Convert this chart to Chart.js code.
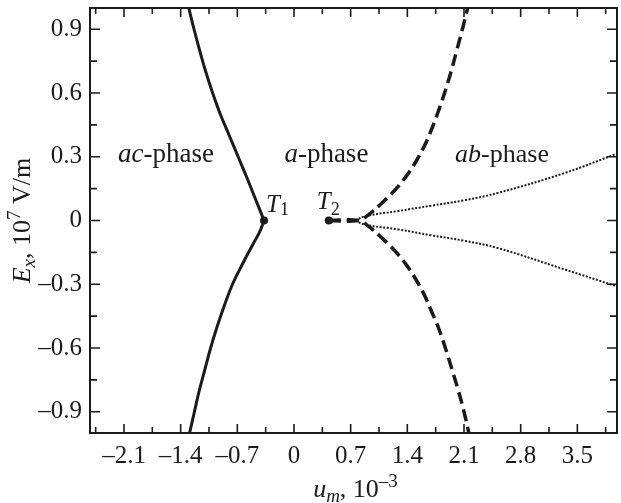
<!DOCTYPE html>
<html><head><meta charset="utf-8">
<script src="https://cdn.jsdelivr.net/npm/chart.js@4/dist/chart.umd.min.js"></script>
<style>html,body{margin:0;padding:0;background:#fff}#wrap{width:621px;height:503px}
.fl{font-family:"Liberation Serif";position:absolute;left:-999px}</style>
</head><body><div id="wrap"><canvas id="c" width="621" height="503"></canvas></div>
<span class="fl">0.9 <i>ac</i></span>
<script>
// ---- data ----
const xTicks = [-2.1, -1.4, -0.7, 0, 0.7, 1.4, 2.1, 2.8, 3.5];
const xTickLabels = ['\u20132.1', '\u20131.4', '\u20130.7', '0', '0.7', '1.4', '2.1', '2.8', '3.5'];
const xMinorTicks = [-2.45, -1.75, -1.05, -0.35, 0.35, 1.05, 1.75, 2.45, 3.15, 3.85];
const yTicks = [-0.9, -0.6, -0.3, 0, 0.3, 0.6, 0.9];
const yTickLabels = ['\u20130.9', '\u20130.6', '\u20130.3', '0', '0.3', '0.6', '0.9'];
const yMinorTicks = [-0.75, -0.45, -0.15, 0.15, 0.45, 0.75];

// ac / a boundary (solid)
const uAcUpper = [-0.37, -0.475, -0.58, -0.69, -0.80, -0.91, -1.005, -1.09, -1.165, -1.235, -1.30];
const eAcUpper = [0, 0.1, 0.2, 0.3, 0.4, 0.5, 0.6, 0.7, 0.8, 0.9, 1.0];
const uAcLower = [-0.37, -0.42, -0.49, -0.63, -0.76, -0.86, -0.95, -1.03, -1.10, -1.17, -1.23, -1.29];
const eAcLower = [0, -0.05, -0.1, -0.2, -0.3, -0.4, -0.5, -0.6, -0.7, -0.8, -0.9, -1.0];
// a / ab boundary (dashed)
const uAbUpper = [0.43, 0.80, 0.93, 1.08, 1.24, 1.39, 1.51, 1.61, 1.69, 1.77, 1.86, 1.94, 2.01, 2.08, 2.145];
const eAbUpper = [0, 0, 0.03, 0.08, 0.14, 0.21, 0.28, 0.35, 0.42, 0.50, 0.60, 0.70, 0.80, 0.90, 1.0];
const uAbLower = [0.43, 0.80, 0.93, 1.08, 1.24, 1.39, 1.51, 1.61, 1.69, 1.78, 1.87, 1.95, 2.03, 2.10, 2.16];
const eAbLower = [0, 0, -0.03, -0.08, -0.14, -0.21, -0.28, -0.35, -0.42, -0.50, -0.60, -0.70, -0.80, -0.90, -1.0];
// dotted curves
const uDotUpper = [0.76, 0.88, 1.29, 1.70, 2.10, 2.52, 3.34, 3.99];
const eDotUpper = [0, 0.02, 0.045, 0.07, 0.095, 0.13, 0.223, 0.315];
const uDotLower = [0.76, 0.88, 1.29, 1.70, 2.10, 2.52, 3.34, 3.99];
const eDotLower = [0, -0.02, -0.042, -0.07, -0.095, -0.13, -0.23, -0.31];
// special points
const pointNames = ['T1', 'T2'];
const pointU = [-0.37, 0.43];
const pointE = [0, 0];
// region labels
const phaseNames = ['ac', 'a', 'ab'];

const INK = '#1b1b1b';
const SERIF = '"Liberation Serif", "Times New Roman", serif';
const zip = (us, es) => us.map((u, i) => ({x: u, y: es[i]}));

function curve(us, es, style) {
  return Object.assign({
    data: zip(us, es), showLine: true, pointRadius: 0, pointHoverRadius: 0,
    borderColor: INK, backgroundColor: INK, tension: 0.4, fill: false
  }, style);
}
const solid = {borderWidth: 3};
const dashed = {borderWidth: 3.5, borderDash: [12, 6]};
const dotted = {borderWidth: 2, borderDash: [2, 1.6]};

function drawRich(ctx, pieces, x, y, size, align) {
  const fontOf = (p) => (p[1] ? 'italic ' : '') + Math.round(size * (p[2] || 1)) + 'px ' + SERIF;
  let total = 0;
  pieces.forEach(p => { ctx.font = fontOf(p); total += ctx.measureText(p[0]).width; });
  let cx = align === 'center' ? x - total / 2 : (align === 'right' ? x - total : x);
  ctx.textAlign = 'left';
  ctx.textBaseline = 'alphabetic';
  pieces.forEach(p => {
    ctx.font = fontOf(p);
    ctx.fillText(p[0], cx, y + (p[3] || 0) * size);
    cx += ctx.measureText(p[0]).width;
  });
}

const zeroPad = s => { s.paddingLeft = 0; s.paddingRight = 0; s.paddingTop = 0; s.paddingBottom = 0; };

const decor = {
  id: 'decor',
  afterDatasetsDraw(chart) {
    const {ctx, chartArea: a, scales: {x, y}} = chart;
    ctx.save();
    ctx.strokeStyle = INK;
    ctx.lineWidth = 1.6;
    const tick = (v, len, horiz) => {
      if (horiz) {
        const p = x.getPixelForValue(v);
        ctx.beginPath();
        ctx.moveTo(p, a.bottom); ctx.lineTo(p, a.bottom - len);
        ctx.moveTo(p, a.top); ctx.lineTo(p, a.top + len);
        ctx.stroke();
      } else {
        const p = y.getPixelForValue(v);
        ctx.beginPath();
        ctx.moveTo(a.left, p); ctx.lineTo(a.left + len, p);
        ctx.moveTo(a.right, p); ctx.lineTo(a.right - len, p);
        ctx.stroke();
      }
    };
    xTicks.forEach(v => tick(v, 9, true));
    xMinorTicks.forEach(v => tick(v, 6, true));
    yTicks.forEach(v => tick(v, 10, false));
    yMinorTicks.forEach(v => tick(v, 7, false));
    ctx.lineWidth = 2;
    ctx.strokeRect(a.left, a.top, a.right - a.left, a.bottom - a.top);

    ctx.fillStyle = INK;
    const labY = y.getPixelForValue(0.273);
    drawRich(ctx, [[phaseNames[0], true], ['-phase', false]], x.getPixelForValue(-1.58), labY, 27, 'center');
    drawRich(ctx, [[phaseNames[1], true], ['-phase', false]], x.getPixelForValue(0.40), labY, 27, 'center');
    drawRich(ctx, [[phaseNames[2], true], ['-phase', false]], x.getPixelForValue(2.57), labY, 26, 'center');
    const p1x = x.getPixelForValue(pointU[0]), p1y = y.getPixelForValue(pointE[0]);
    drawRich(ctx, [['T', true], ['1', false, 0.72, 0.14]], p1x + 2, p1y - 9, 25, 'left');
    const p2x = x.getPixelForValue(pointU[1]), p2y = y.getPixelForValue(pointE[1]);
    drawRich(ctx, [['T', true], ['2', false, 0.72, 0.24]], p2x - 12, p2y - 11.5, 25, 'left');

    drawRich(ctx, [['u', true], ['m', true, 0.72, 0.2], [', 10', false], ['\u20133', false, 0.72, -0.38]],
      (a.left + a.right) / 2 + 2, 497, 26, 'center');
    ctx.translate(30, (a.top + a.bottom) / 2);
    ctx.rotate(-Math.PI / 2);
    drawRich(ctx, [['E', true], ['x', true, 0.72, 0.2], [', 10', false], ['7', false, 0.72, -0.38], [' V/m', false]],
      0, 0, 26, 'center');
    ctx.restore();
  }
};

function build() {
  new Chart(document.getElementById('c'), {
    type: 'scatter',
    data: {
      datasets: [
        curve(uAcUpper, eAcUpper, solid),
        curve(uAcLower, eAcLower, solid),
        curve(uAbUpper, eAbUpper, dashed),
        curve(uAbLower, eAbLower, dashed),
        curve(uDotUpper, eDotUpper, dotted),
        curve(uDotLower, eDotLower, dotted),
        {label: pointNames.join(','), data: zip(pointU, pointE), showLine: false,
         pointRadius: 4, pointBackgroundColor: INK, pointBorderColor: INK, pointBorderWidth: 0}
      ]
    },
    options: {
      responsive: false,
      animation: false,
      events: [],
      layout: {padding: {top: 8, right: 1, left: 0, bottom: 0}},
      plugins: {legend: {display: false}, tooltip: {enabled: false}},
      scales: {
        x: {
          type: 'linear', min: -2.52, max: 3.99,
          afterBuildTicks: s => { s.ticks = xTicks.map(v => ({value: v})); },
          afterFit: s => { s.height = 70; zeroPad(s); },
          afterUpdate: zeroPad,
          grid: {display: false, drawTicks: false}, border: {display: false},
          ticks: {
            color: INK, padding: 8, maxRotation: 0, autoSkip: false,
            font: {family: SERIF, size: 25},
            callback: v => { const i = xTicks.findIndex(t => Math.abs(t - v) < 1e-6); return i >= 0 ? xTickLabels[i] : ''; }
          }
        },
        y: {
          type: 'linear', min: -1, max: 1,
          afterBuildTicks: s => { s.ticks = yTicks.map(v => ({value: v})); },
          afterFit: s => { s.width = 90; zeroPad(s); },
          afterUpdate: zeroPad,
          grid: {display: false, drawTicks: false}, border: {display: false},
          ticks: {
            color: INK, padding: 8, autoSkip: false,
            font: {family: SERIF, size: 25},
            callback: v => { const i = yTicks.findIndex(t => Math.abs(t - v) < 1e-6); return i >= 0 ? yTickLabels[i] : ''; }
          }
        }
      }
    },
    plugins: [decor]
  });
}
Promise.all([
  document.fonts.load('24px "Liberation Serif"'),
  document.fonts.load('italic 24px "Liberation Serif"')
]).then(build, build);
</script>
</body></html>
